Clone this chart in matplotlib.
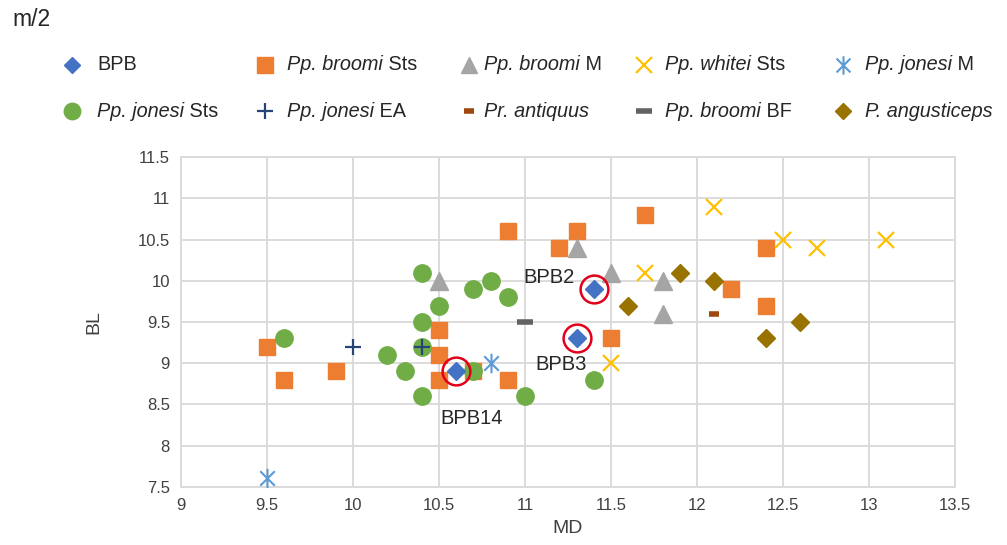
import matplotlib
matplotlib.use("Agg")
import matplotlib.pyplot as plt
from matplotlib.lines import Line2D
from matplotlib.path import Path

plt.rcParams['font.family'] = ['Liberation Sans', 'DejaVu Sans']

# data (MD, BL)
bpb_x = [11.4, 11.3, 10.6]
bpb_y = [9.9, 9.3, 8.9]
bpb_names = ["BPB2", "BPB3", "BPB14"]

broomi_sts_x = [9.5, 9.6, 9.9, 10.5, 10.5, 10.5, 10.7, 10.9, 10.9, 11.2, 11.3, 11.5, 11.7, 12.2, 12.4, 12.4]
broomi_sts_y = [9.2, 8.8, 8.9, 9.4, 9.1, 8.8, 8.9, 8.8, 10.6, 10.4, 10.6, 9.3, 10.8, 9.9, 10.4, 9.7]

broomi_m_x = [10.5, 11.3, 11.5, 11.8, 11.8]
broomi_m_y = [10.0, 10.4, 10.1, 10.0, 9.6]

whitei_sts_x = [11.5, 11.7, 12.1, 12.5, 12.7, 13.1]
whitei_sts_y = [9.0, 10.1, 10.9, 10.5, 10.4, 10.5]

jonesi_m_x = [9.5, 10.8]
jonesi_m_y = [7.6, 9.0]

jonesi_sts_x = [9.6, 10.2, 10.3, 10.4, 10.4, 10.4, 10.4, 10.5, 10.7, 10.8, 10.9, 10.7, 11.0, 11.4]
jonesi_sts_y = [9.3, 9.1, 8.9, 10.1, 9.5, 9.2, 8.6, 9.7, 9.9, 10.0, 9.8, 8.9, 8.6, 8.8]

jonesi_ea_x = [10.0, 10.4]
jonesi_ea_y = [9.2, 9.2]

antiquus_x = [12.1]
antiquus_y = [9.6]

broomi_bf_x = [11.0]
broomi_bf_y = [9.5]

angusticeps_x = [11.6, 11.9, 12.1, 12.4, 12.6]
angusticeps_y = [9.7, 10.1, 10.0, 9.3, 9.5]

xticks = [9, 9.5, 10, 10.5, 11, 11.5, 12, 12.5, 13, 13.5]
yticks = [7.5, 8, 8.5, 9, 9.5, 10, 10.5, 11, 11.5]

# asterisk marker: x plus vertical bar
asterisk = Path([(0, -1), (0, 1), (-0.75, -0.75), (0.75, 0.75), (-0.75, 0.75), (0.75, -0.75)],
                [Path.MOVETO, Path.LINETO, Path.MOVETO, Path.LINETO, Path.MOVETO, Path.LINETO])

W, H = 1007, 545


def px(x, y):
    # pixel position (from top-left) -> figure fraction
    return x / W, 1 - y / H


def main():
    fig = plt.figure(figsize=(W / 100, H / 100), dpi=100)
    ax = fig.add_axes([181 / W, 1 - 486.7 / H, 774 / W, 329.4 / H])

    # (italic part, plain part, x, y, style)
    series = {
        'bpb': ('', 'BPB', bpb_x, bpb_y,
                dict(marker='D', ms=9, color='#4472C4', zorder=7)),
        'broomi_sts': ('Pp. broomi', 'Sts', broomi_sts_x, broomi_sts_y,
                       dict(marker='s', ms=12, color='#ED7D31', zorder=3)),
        'broomi_m': ('Pp. broomi', 'M', broomi_m_x, broomi_m_y,
                     dict(marker='^', ms=12.5, color='#A5A5A5', zorder=4)),
        'whitei': ('Pp. whitei', 'Sts', whitei_sts_x, whitei_sts_y,
                   dict(marker='x', ms=12, mew=1.6, color='#FFC000', zorder=4)),
        'jonesi_m': ('Pp. jonesi', 'M', jonesi_m_x, jonesi_m_y,
                     dict(marker=asterisk, ms=14, mew=1.5, color='#5B9BD5', mfc='none', zorder=4)),
        'jonesi_sts': ('Pp. jonesi', 'Sts', jonesi_sts_x, jonesi_sts_y,
                       dict(marker='o', ms=12.5, color='#70AD47', zorder=5)),
        'jonesi_ea': ('Pp. jonesi', 'EA', jonesi_ea_x, jonesi_ea_y,
                      dict(marker='+', ms=12, mew=1.6, color='#264478', zorder=6)),
        'antiquus': ('Pr. antiquus', '', antiquus_x, antiquus_y,
                     dict(marker='_', ms=7, mew=4, color='#9E480E', zorder=6)),
        'broomi_bf': ('Pp. broomi', 'BF', broomi_bf_x, broomi_bf_y,
                      dict(marker='_', ms=12, mew=4, color='#636363', zorder=6)),
        'angusticeps': ('P. angusticeps', '', angusticeps_x, angusticeps_y,
                        dict(marker='D', ms=9, color='#997300', zorder=6)),
    }

    for key, (it, rg, xs, ys, st) in series.items():
        ax.plot(xs, ys, ls='none', **st)

    # red rings round the BPB specimens
    ax.plot(bpb_x, bpb_y, 'o', ms=20, mfc='none', mec='#E3001B', mew=1.8, zorder=8)

    lab_kw = dict(fontsize=14.5, color='#262626', zorder=9, va='center')
    ax.text(11.29, 10.04, bpb_names[0], ha='right', **lab_kw)
    ax.text(11.21, 8.98, bpb_names[1], ha='center', **lab_kw)
    ax.text(10.69, 8.33, bpb_names[2], ha='center', **lab_kw)

    ax.set_xlim(9, 13.5)
    ax.set_ylim(7.5, 11.5)
    ax.set_xticks(xticks)
    ax.set_yticks(yticks)
    ax.set_xticklabels([f'{t:g}' for t in xticks])
    ax.set_yticklabels([f'{t:g}' for t in yticks])
    ax.grid(True, color='#D9D9D9', lw=1.3, zorder=0)
    ax.set_axisbelow(True)
    for s in ax.spines.values():
        s.set_color('#D9D9D9')
        s.set_linewidth(1.3)
    ax.tick_params(length=0, labelsize=12, colors='#404040', pad=8)
    ax.set_xlabel('MD', fontsize=14, color='#404040', va='center')
    ax.set_ylabel('BL', fontsize=14, color='#404040', va='center')
    ax.xaxis.set_label_coords(0.5, (486.7 - 528.5) / 329.4)
    ax.yaxis.set_label_coords((94 - 181) / 774, 0.5)

    # legend drawn by hand, two rows of five, placed as in the original
    rows = [['bpb', 'broomi_sts', 'broomi_m', 'whitei', 'jonesi_m'],
            ['jonesi_sts', 'jonesi_ea', 'antiquus', 'broomi_bf', 'angusticeps']]
    row_y = [65, 111]
    mark_x = [72, 265, 469, 644, 843]
    text_x = [97, 287, 484, 665, 865]
    for r, keys in enumerate(rows):
        for c, key in enumerate(keys):
            it, rg, xs, ys, st = series[key]
            st = dict(st)
            st['ms'] = st['ms'] * 0.95
            mx, my = px(mark_x[c], row_y[r])
            fig.add_artist(Line2D([mx], [my], ls='none', transform=fig.transFigure, **st))
            tx, ty = px(text_x[c], row_y[r])
            t = fig.text(tx, ty, it if it else rg, fontsize=14.3, style='italic' if it else 'normal',
                         color='#262626', va='center', ha='left')
            if it and rg:
                # plain suffix glued to the right end of the italic part
                fig.add_artist(plt.Annotation(' ' + rg, xy=(1, 0), xycoords=t, fontsize=14.3,
                                              color='#262626', va='bottom', ha='left',
                                              annotation_clip=False))

    tx, ty = px(12, 19)
    fig.text(tx, ty, 'm/2', fontsize=16.5, va='center', color='#262626')

    fig.savefig('out.png', dpi=100)


if __name__ == '__main__':
    main()
